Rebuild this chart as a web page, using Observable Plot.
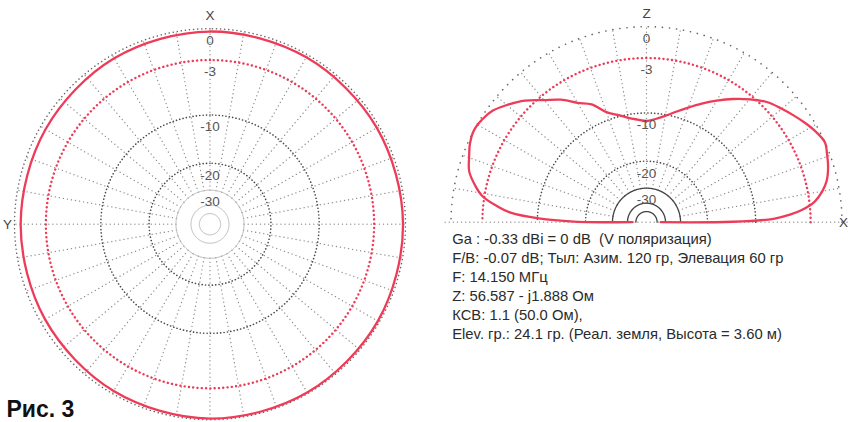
<!DOCTYPE html>
<html><head><meta charset="utf-8">
<script src="https://cdn.jsdelivr.net/npm/d3@7"></script>
<script src="https://cdn.jsdelivr.net/npm/@observablehq/plot@0.6"></script>
<style>
body{margin:0;background:#fff;}
#chart{width:848px;height:422px;overflow:hidden;}
</style></head><body><div id="chart"></div>
<script>
// Azimuth pattern (left plot): angle from X axis, counter-clockwise toward Y, gain in dB
const azAngles = [0, 30, 60, 90, 120, 150, 180, 210, 240, 270, 300, 330];
const azGain   = [-0.25, -0.35, -0.5, -0.55, -0.45, -0.25, -0.1, -0.1, -0.15, -0.22, -0.25, -0.25];

// Elevation pattern (right plot): elevation angle 0..180 deg, gain in dB
const elAngles = [0, 0.3, 1.5, 3, 4.5, 7, 10, 13, 17, 21, 24, 28, 32, 36, 40, 45, 50, 55, 60, 65,
  70, 75, 80, 85, 90, 95, 100, 105, 110, 115, 120, 125, 130, 135, 140, 144, 148, 152, 156, 160,
  164, 168, 171, 174, 176, 178, 179.5, 180];
const elGain = [-45, -14, -7.4, -5.3, -3.9, -2.45, -1.55, -0.95, -0.5, -0.2, 0, -0.3, -0.75, -1.25, -1.75, -2.4, -3.4, -4.5, -5.7, -6.9,
  -8.1, -9.2, -10.2, -10.9, -11.3, -11.0, -10.5, -9.7, -8.8, -7.0, -6.0, -4.6, -3.5, -2.2, -1.2, -0.5, -0.15, 0, -0.2, -0.6,
  -1.0, -1.9, -2.8, -4.6, -6.2, -10.2, -17, -45];

// Grid rings (dB) and labels
const ringDb = [0, -3, -10, -20, -30];
const ringLabels = ["0", "-3", "-10", "-20", "-30"];
const innerDb = [-40, -50];
const azAxisLabels = ["X", "Y"];
const elAxisLabels = ["Z", "X"];

const infoLines = [
  "Ga : -0.33 dBi = 0 dB  (V поляризация)",
  "F/B: -0.07 dB; Тыл: Азим. 120 гр, Элевация 60 гр",
  "F: 14.150 МГц",
  "Z: 56.587 - j1.888 Ом",
  "КСВ: 1.1 (50.0 Ом),",
  "Elev. гр.: 24.1 гр. (Реал. земля, Высота = 3.60 м)"
];
const caption = "Рис. 3";

// ---- geometry helpers (ARRL log scale) ----
const rOf = db => Math.pow(0.89, -db / 2);
const rad = d => d * Math.PI / 180;
const PX = 195.5;                 // px per unit radius
const DX = 436.5 / PX, DY = 2 / PX; // offset of elevation plot centre
const xDom = [-209.5 / PX, (848 - 209.5) / PX];
const yDom = [-(422 - 223.7) / PX, 223.7 / PX];

const azPt = (a, db) => ({x: -rOf(db) * Math.sin(rad(a)), y: rOf(db) * Math.cos(rad(a))});
const elPt = (e, db) => ({x: DX + rOf(db) * Math.cos(rad(e)), y: DY + rOf(db) * Math.sin(rad(e))});

const azData = azAngles.map((a, i) => azPt(a, azGain[i]));
const elData = elAngles.map((e, i) => elPt(e, elGain[i]));

const full = d3.range(0, 360.5, 1);
const half = d3.range(0, 180.5, 1);
const ringPts = (dbs, angs, pt) => dbs.flatMap(db => angs.map(a => ({...pt(a, db), db})));
const azRing = dbs => ringPts(dbs, full, azPt);
const elRing = dbs => ringPts(dbs, half, elPt);

const azRad = d3.range(0, 360, 10).map(a => ({a1: azPt(a, -30), a2: azPt(a, 0)}));
const elRad = d3.range(10, 180, 10).map(a => ({a1: elPt(a, -30), a2: elPt(a, 0)}));
const baseLine = [{x: DX - 1.03, y: DY}, {x: DX + 1.03, y: DY}];

const red = "#ee3b58";
const font = "Liberation Sans, Arial, sans-serif";
const dotted = (color, w, gap) => ({stroke: color, strokeWidth: w, strokeDasharray: `0.1,${gap}`, strokeLinecap: "round"});

const chart = Plot.plot({
  width: 848, height: 422, margin: 0,
  x: {domain: xDom, axis: null},
  y: {domain: yDom, axis: null},
  style: {fontFamily: font, background: "#fff"},
  marks: [
    // radials
    Plot.link(azRad, {x1: d => d.a1.x, y1: d => d.a1.y, x2: d => d.a2.x, y2: d => d.a2.y, ...dotted("#8c8c8c", 1.3, 4)}),
    Plot.link(elRad, {x1: d => d.a1.x, y1: d => d.a1.y, x2: d => d.a2.x, y2: d => d.a2.y, ...dotted("#8c8c8c", 1.3, 4)}),
    Plot.line(baseLine, {x: "x", y: "y", ...dotted("#8c8c8c", 1.3, 4)}),
    // dark dotted rings -10, -20
    Plot.line(azRing([-10, -20]), {x: "x", y: "y", z: "db", ...dotted("#4a4a4a", 1.6, 3.3)}),
    Plot.line(elRing([-10, -20]), {x: "x", y: "y", z: "db", ...dotted("#4a4a4a", 1.6, 3.3)}),
    // outer 0 dB ring
    Plot.line(azRing([0]), {x: "x", y: "y", z: "db", ...dotted("#666", 1.5, 4)}),
    Plot.line(elRing([0]), {x: "x", y: "y", z: "db", ...dotted("#666", 1.6, 7)}),
    // solid inner rings
    Plot.line(azRing([-30, ...innerDb]), {x: "x", y: "y", z: "db", stroke: "#b8b8b8", strokeWidth: 1}),
    Plot.line(elRing([-30, ...innerDb]), {x: "x", y: "y", z: "db", stroke: "#444", strokeWidth: 1.3}),
    // -3 dB red dotted ring
    Plot.line(azRing([-3]), {x: "x", y: "y", z: "db", ...dotted(red, 2.4, 4.2)}),
    Plot.line(elRing([-3]), {x: "x", y: "y", z: "db", ...dotted(red, 2.4, 4.2)}),
    // patterns
    Plot.line(azData, {x: "x", y: "y", stroke: red, strokeWidth: 2.3, curve: "catmull-rom-closed"}),
    Plot.line(elData, {x: "x", y: "y", stroke: red, strokeWidth: 2.3, curve: "catmull-rom"}),
    // ring labels
    Plot.text(ringDb, {x: 0, y: d => rOf(d), dy: 12, text: (d, i) => ringLabels[i], fill: "#555", fontSize: 13.5}),
    Plot.text(ringDb, {x: DX, y: d => DY + rOf(d), dy: 12, text: (d, i) => ringLabels[i], fill: "#555", fontSize: 13.5}),
    // axis letters
    Plot.text([azAxisLabels[0]], {x: 0, y: 1, dy: -13, text: d => d, fill: "#444", fontSize: 13.5}),
    Plot.text([azAxisLabels[1]], {x: -1, y: 0, dx: -7, text: d => d, fill: "#444", fontSize: 13.5}),
    Plot.text([elAxisLabels[0]], {x: DX, y: DY + 1, dy: -13, text: d => d, fill: "#444", fontSize: 13.5}),
    Plot.text([elAxisLabels[1]], {x: DX + 1, y: DY, dx: 6, text: d => d, textAnchor: "end", fill: "#444", fontSize: 13.5}),
    // info text
    Plot.text(infoLines, {x: 451.7 / PX + xDom[0], y: (d, i) => (223.7 - 238.3 - i * 19) / PX,
      text: d => d, textAnchor: "start", fill: "#2b2b2b", fontSize: 14.8}),
    // caption
    Plot.text([caption], {x: 6 / PX + xDom[0], y: (223.7 - 409) / PX, text: d => d, textAnchor: "start",
      fill: "#111", fontSize: 23, fontWeight: "bold"})
  ]
});
document.getElementById("chart").appendChild(chart);
</script>
</body></html>
